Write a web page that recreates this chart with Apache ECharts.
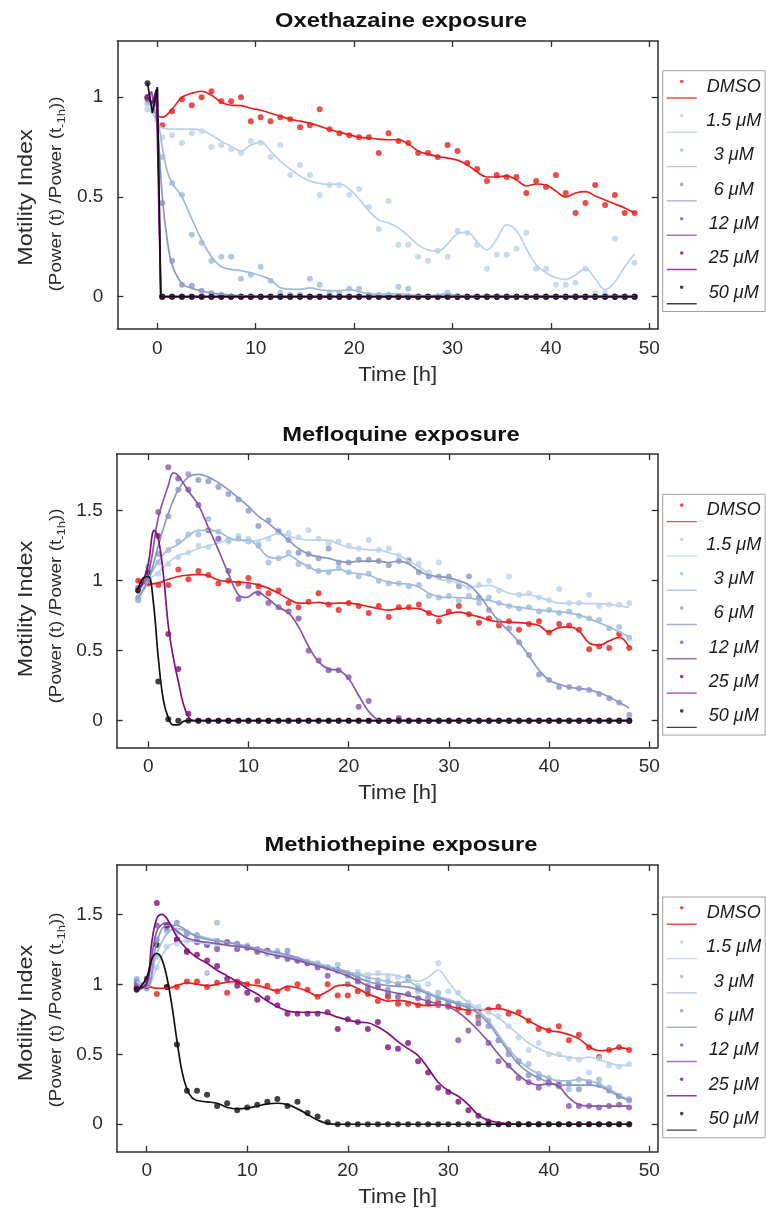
<!DOCTYPE html>
<html><head><meta charset="utf-8">
<script src="https://cdn.jsdelivr.net/npm/echarts@6/dist/echarts.min.js"></script>
<style>html,body{margin:0;padding:0;background:#fff}#c{width:766px;height:1211px}</style>
</head><body><div id="c"></div>
<script>
const FONT = '"Liberation Sans", Arial, Helvetica, sans-serif';
const seriesNames = ['DMSO', '1.5 μM', '3 μM', '6 μM', '12 μM', '25 μM', '50 μM'];
const colors = ['#e3211f', '#bcd2e8', '#9ebcda', '#8c96c6', '#8856a7', '#810f7c', '#111111'];
const panelTitles = ['Oxethazaine exposure', 'Mefloquine exposure', 'Methiothepine exposure'];
const xTicks = [0, 10, 20, 30, 40, 50];
const yTicksOxe = [0, 0.5, 1];
const yTicks = [0, 0.5, 1, 1.5];

// ---------- Oxethazaine ----------
const tOxe = [-1,0.5,1.5,2.5,3.5,4.5,5.5,6.5,7.5,8.5,9.5,10.5,11.5,12.5,13.5,14.5,15.5,16.5,17.5,18.5,19.5,20.5,21.5,22.5,23.5,24.5,25.5,26.5,27.5,28.5,29.5,30.5,31.5,32.5,33.5,34.5,35.5,36.5,37.5,38.5,39.5,40.5,41.5,42.5,43.5,44.5,45.5,46.5,47.5,48.5];
const oxeDMSO = [1.0,0.86,0.93,0.99,0.96,1.0,1.03,0.98,0.98,1.0,0.88,0.9,0.88,0.9,0.89,0.85,0.86,0.94,0.84,0.82,0.81,0.8,0.8,0.72,0.82,0.78,0.77,0.72,0.72,0.7,0.76,0.73,0.67,0.64,0.58,0.61,0.6,0.6,0.52,0.58,0.55,0.61,0.52,0.42,0.47,0.56,0.46,0.51,0.42,0.42];
const oxe1_5 = [0.94,0.8,0.81,0.77,0.82,0.83,0.75,0.76,0.74,0.72,0.78,0.77,0.7,0.76,0.61,0.66,0.61,0.51,0.56,0.56,0.51,0.54,0.45,0.34,0.48,0.26,0.26,0.2,0.18,0.23,0.2,0.33,0.32,0.26,0.14,0.21,0.21,0.24,0.32,0.14,0.14,0.06,0.06,0.07,0.14,0.02,0.02,0.29,null,0.17];
const oxe3 = [0.97,0.7,0.57,0.51,0.31,0.27,0.18,0.2,0.2,0.09,0.11,0.15,0.08,0.02,0.01,0.01,0.09,0.06,0.02,0.02,0.04,0.04,0.01,0.01,0.01,0.05,0.04,0,0,0,0.02,0,0,0,0,0,0,0,0,0,0,0,0,0,0,0,0,0,0,0];
const oxe6 = [1.0,0.47,0.18,0.06,0.055,0.03,0.017,0.01,0,0,0,0,0,0,0,0,0,0,0,0,0,0,0,0,0,0,0,0,0,0,0,0,0,0,0,0,0,0,0,0,0,0,0,0,0,0,0,0,0,0];
const oxe12 = [0.99,0,0,0,0,0,0,0,0,0,0,0,0,0,0,0,0,0,0,0,0,0,0,0,0,0,0,0,0,0,0,0,0,0,0,0,0,0,0,0,0,0,0,0,0,0,0,0,0,0];
const oxe25 = [1.0,0,0,0,0,0,0,0,0,0,0,0,0,0,0,0,0,0,0,0,0,0,0,0,0,0,0,0,0,0,0,0,0,0,0,0,0,0,0,0,0,0,0,0,0,0,0,0,0,0];
const oxe50 = [1.07,0,0,0,0,0,0,0,0,0,0,0,0,0,0,0,0,0,0,0,0,0,0,0,0,0,0,0,0,0,0,0,0,0,0,0,0,0,0,0,0,0,0,0,0,0,0,0,0,0];
const oxeFitDMSO = [[-1,1.0],[-0.5,0.96],[0,0.91],[0.5,0.9],[1.5,0.94],[2.5,1.0],[3.5,1.02],[4.5,1.03],[5.5,1.01],[6.5,0.975],[7.5,0.96],[8.5,0.958],[9.5,0.945],[10.5,0.935],[11.5,0.92],[12.5,0.905],[13.5,0.89],[14.5,0.88],[15.5,0.87],[16.5,0.855],[17.5,0.838],[18.5,0.825],[19.5,0.812],[20.5,0.8],[21.5,0.795],[22.5,0.79],[23.5,0.787],[24.5,0.787],[25.5,0.765],[26.5,0.73],[27.5,0.715],[28.5,0.703],[29.5,0.695],[30.5,0.685],[31.5,0.662],[32.5,0.625],[33.5,0.6],[34.5,0.6],[35.5,0.606],[36.5,0.585],[37.5,0.555],[38.5,0.565],[39.5,0.56],[40.5,0.53],[41.5,0.5],[42.5,0.52],[43.5,0.527],[44.5,0.505],[45.5,0.485],[46.5,0.465],[47.5,0.445],[48.5,0.42]];
const oxeFit1_5 = [[-1,0.94],[-0.5,0.92],[0,0.87],[0.5,0.846],[1.5,0.84],[2.5,0.84],[3.5,0.84],[4.5,0.835],[5.5,0.81],[6.5,0.78],[7.5,0.754],[8.5,0.73],[9.5,0.76],[10.5,0.775],[11.5,0.73],[12.5,0.68],[13.5,0.64],[14.5,0.605],[15.5,0.58],[16.5,0.568],[17.5,0.562],[18.5,0.566],[19.5,0.54],[20.5,0.49],[21.5,0.43],[22.5,0.385],[23.5,0.37],[24.5,0.345],[25.5,0.305],[26.5,0.26],[27.5,0.235],[28.5,0.228],[29.5,0.265],[30.5,0.315],[31.5,0.322],[32.5,0.275],[33.5,0.235],[34.5,0.29],[35.5,0.36],[36.5,0.33],[37.5,0.24],[38.5,0.16],[39.5,0.12],[40.5,0.095],[41.5,0.087],[42.5,0.11],[43.5,0.14],[44.5,0.09],[45.5,0.035],[46.5,0.075],[47.5,0.15],[48.5,0.215]];
const oxeFit3 = [[-1,0.97],[-0.5,0.96],[0,0.9],[0.5,0.75],[1,0.63],[1.5,0.57],[2.5,0.5],[3.5,0.39],[4.5,0.285],[5.5,0.2],[6.5,0.15],[7.5,0.137],[8.5,0.13],[9.5,0.12],[10.5,0.105],[11.5,0.085],[12.5,0.045],[13.5,0.038],[14.5,0.037],[15.5,0.044],[16.5,0.035],[17.5,0.03],[18.5,0.03],[19.5,0.037],[20.5,0.025],[21.5,0.015],[22.5,0.012],[23.5,0.013],[24.5,0.015],[25.5,0.01],[26.5,0.005],[27.5,0.003],[28.5,0.01],[29.5,0.015],[30.5,0.005],[31.5,0],[48.5,0]];
const oxeFit6 = [[-1,1.0],[-0.5,0.97],[0,0.85],[0.5,0.5],[1,0.285],[1.5,0.16],[2.5,0.065],[3.5,0.042],[4.5,0.028],[5.5,0.018],[7.5,0.008],[9.5,0.003],[11,0],[48.5,0]];
const oxeFit12 = [[-1,0.99],[-0.6,1.03],[-0.3,0.95],[0,1.05],[0.35,0],[48.5,0]];
const oxeFit25 = [[-1,1.0],[-0.5,0.97],[-0.1,1.04],[0.35,0],[48.5,0]];
const oxeFit50 = [[-1,1.07],[-0.5,0.92],[0,1.05],[0.35,0],[48.5,0]];

// ---------- Mefloquine ----------
const tMef = [-1,0,1,2,3,4,5,6,7,8,9,10,11,12,13,14,15,16,17,18,19,20,21,22,23,24,25,26,27,28,29,30,31,32,33,34,35,36,37,38,39,40,41,42,43,44,45,46,47,48];
const mefDMSO = [1.0,0.98,0.97,0.97,1.08,1.01,1.07,1.04,0.98,1.0,0.98,1.02,0.96,0.91,0.93,0.84,0.81,0.85,0.91,0.83,0.79,0.84,0.82,0.77,0.82,0.74,0.81,0.81,0.83,0.77,0.71,0.78,0.82,0.76,0.7,0.73,0.68,0.71,0.65,0.69,0.71,0.63,0.69,0.68,0.65,0.51,0.53,0.52,0.62,0.52];
const mef1_5 = [0.86,1.0,1.05,1.12,1.17,1.2,1.25,1.24,1.29,1.28,1.32,1.3,1.27,1.3,1.36,1.34,1.31,1.36,1.3,1.27,1.28,1.25,1.23,1.29,1.22,1.23,1.18,1.15,1.12,1.06,1.13,1.0,0.99,0.95,0.97,1.0,0.93,1.03,0.9,0.91,0.88,0.86,0.94,0.84,0.84,0.9,0.82,0.83,0.83,0.84];
const mef3 = [0.86,1.02,1.13,1.22,1.28,1.33,1.33,1.44,1.35,1.29,1.3,1.28,1.25,1.13,1.16,1.2,1.12,1.1,1.07,1.06,1.09,1.06,1.03,1.05,1.0,0.98,0.98,0.96,0.97,0.89,0.88,0.89,0.86,0.89,0.84,0.88,0.84,0.82,0.8,0.81,0.78,0.79,0.77,0.78,0.75,0.73,0.72,0.66,0.67,0.59];
const mef6 = [0.88,1.1,1.19,1.46,1.65,1.76,1.72,1.71,1.67,1.62,1.58,1.5,1.39,1.43,1.35,1.29,1.2,1.19,1.16,1.23,1.13,1.13,1.15,1.15,1.14,1.11,1.14,1.14,1.06,1.03,1.03,1.03,0.96,1.03,0.88,0.79,0.71,0.66,0.56,0.47,0.33,0.29,0.24,0.24,0.23,0.22,0.19,0.16,0.13,0.04];
const mef12 = [0.95,1.05,1.49,1.81,1.73,1.65,1.54,1.36,1.3,1.07,0.87,0.96,0.91,0.84,0.81,0.78,0.73,0.5,0.43,0.36,0.36,0.31,0.1,0.14,0,0,0.02,0,0,0,0,0,0,0,0,0,0,0,0,0,0,0,0,0,0,0,0,0,0,0];
const mef25 = [0.93,1.01,1.32,0.62,0.37,0.05,0,0,0,0,0,0,0,0,0,0,0,0,0,0,0,0,0,0,0,0,0,0,0,0,0,0,0,0,0,0,0,0,0,0,0,0,0,0,0,0,0,0,0,0];
const mef50 = [0.93,1.06,0.28,0.01,0,0,0,0,0,0,0,0,0,0,0,0,0,0,0,0,0,0,0,0,0,0,0,0,0,0,0,0,0,0,0,0,0,0,0,0,0,0,0,0,0,0,0,0,0,0];
const mefFitDMSO = [[-1,1.0],[0,0.975],[1,0.985],[2,1.01],[3,1.03],[4,1.04],[5,1.045],[6,1.035],[7,1.005],[8,0.995],[9,0.99],[10,0.985],[11,0.97],[12,0.945],[13,0.91],[14,0.87],[15,0.84],[16,0.84],[17,0.845],[18,0.835],[19,0.84],[20,0.84],[21,0.83],[22,0.815],[23,0.8],[24,0.79],[25,0.8],[26,0.805],[27,0.8],[28,0.77],[29,0.745],[30,0.765],[31,0.775],[32,0.76],[33,0.742],[34,0.72],[35,0.706],[36,0.705],[37,0.7],[38,0.694],[39,0.68],[40,0.635],[41,0.665],[42,0.67],[43,0.64],[44,0.555],[45,0.54],[46,0.57],[47,0.595],[48,0.524]];
const mefFit1_5 = [[-1,0.88],[0,1.0],[1,1.06],[2,1.13],[3,1.18],[4,1.2],[5,1.23],[6,1.25],[7,1.27],[8,1.29],[9,1.29],[10,1.28],[11,1.29],[12,1.31],[13,1.34],[14,1.32],[15,1.3],[16,1.29],[17,1.29],[18,1.29],[19,1.26],[20,1.24],[21,1.23],[22,1.22],[23,1.22],[24,1.2],[25,1.18],[26,1.14],[27,1.1],[28,1.05],[29,1.01],[30,1.0],[31,0.98],[32,0.955],[33,0.96],[34,0.967],[35,0.943],[36,0.91],[37,0.9],[38,0.9],[39,0.88],[40,0.86],[41,0.84],[42,0.84],[43,0.84],[44,0.836],[45,0.836],[46,0.83],[47,0.82],[48,0.81]];
const mefFit3 = [[-1,0.86],[0,1.01],[1,1.14],[2,1.22],[3,1.26],[4,1.32],[5,1.36],[6,1.36],[7,1.35],[8,1.31],[9,1.29],[10,1.29],[11,1.24],[12,1.17],[13,1.16],[14,1.18],[15,1.14],[16,1.1],[17,1.07],[18,1.07],[19,1.08],[20,1.06],[21,1.05],[22,1.04],[23,1.01],[24,0.99],[25,0.98],[26,0.975],[27,0.955],[28,0.91],[29,0.885],[30,0.88],[31,0.88],[32,0.875],[33,0.865],[34,0.86],[35,0.84],[36,0.82],[37,0.81],[38,0.8],[39,0.79],[40,0.784],[41,0.777],[42,0.77],[43,0.754],[44,0.73],[45,0.7],[46,0.67],[47,0.635],[48,0.6]];
const mefFit6 = [[-1,0.88],[0,1.0],[1,1.25],[2,1.48],[3,1.65],[4,1.74],[5,1.76],[6,1.74],[7,1.7],[8,1.65],[9,1.59],[10,1.53],[11,1.46],[12,1.41],[13,1.35],[14,1.29],[15,1.23],[16,1.19],[17,1.17],[18,1.16],[19,1.14],[20,1.13],[21,1.14],[22,1.14],[23,1.14],[24,1.13],[25,1.14],[26,1.12],[27,1.07],[28,1.04],[29,1.03],[30,1.02],[31,1.0],[32,0.97],[33,0.9],[34,0.8],[35,0.71],[36,0.64],[37,0.56],[38,0.46],[39,0.36],[40,0.29],[41,0.26],[42,0.24],[43,0.23],[44,0.22],[45,0.2],[46,0.17],[47,0.13],[48,0.09]];
const mefFit12 = [[-1,0.93],[0,1.05],[1,1.45],[2,1.68],[2.5,1.77],[3,1.75],[4,1.64],[5,1.54],[6,1.38],[7,1.22],[8,1.05],[9,0.9],[9.8,0.88],[10.8,0.92],[11.8,0.88],[13,0.81],[14,0.77],[15,0.67],[16,0.53],[17,0.42],[18,0.37],[19,0.36],[20,0.3],[21,0.18],[22,0.066],[23,0.007],[24,0],[48,0]];
const mefFit25 = [[-1,0.93],[-0.5,1.0],[0,1.12],[0.6,1.36],[1,1.3],[1.5,1.05],[2,0.68],[2.5,0.45],[3,0.28],[3.5,0.12],[4,0.03],[4.5,0],[48,0]];
const mefFit50 = [[-1,0.94],[-0.5,1.02],[0,1.03],[0.5,0.85],[1,0.45],[1.5,0.15],[2,0.02],[2.5,-0.03],[3,-0.03],[3.5,-0.005],[4,0],[48,0]];

// ---------- Methiothepine ----------
const tMet = [-1,0,1,2,3,4,5,6,7,8,9,10,11,12,13,14,15,16,17,18,19,20,21,22,23,24,25,26,27,28,29,30,31,32,33,34,35,36,37,38,39,40,41,42,43,44,45,46,47,48];
const metDMSO = [0.98,0.99,0.93,0.98,0.98,1.02,1.02,0.98,1.01,0.94,1.02,1.0,1.02,0.99,0.95,0.97,1.0,0.96,0.91,1.0,0.92,0.92,0.95,0.93,0.88,0.91,0.86,0.86,0.85,0.87,0.87,0.85,0.83,0.8,0.77,0.82,0.84,0.79,0.8,0.74,0.68,0.67,0.7,0.6,0.64,0.55,0.48,0.53,0.55,0.53];
const met1_5 = [1.03,0.99,1.12,1.27,1.29,1.31,1.32,1.29,1.27,1.29,1.26,1.28,1.24,1.22,1.23,1.21,1.17,1.15,1.13,1.12,1.09,1.08,1.09,1.07,1.08,1.06,1.05,1.03,0.99,1.0,1.15,0.95,0.94,0.87,0.84,0.8,0.77,0.7,0.62,0.53,0.58,0.5,0.5,0.47,0.46,0.37,0.47,0.42,0.41,0.43];
const met3 = [1.04,1.0,1.2,1.38,1.37,1.37,1.33,1.08,1.44,1.3,1.29,1.26,1.25,1.22,1.24,1.2,1.18,1.16,1.15,1.12,1.14,1.08,1.07,1.04,1.03,1.02,1.0,1.03,0.95,0.93,0.94,0.88,0.86,0.85,0.8,0.74,0.6,0.53,0.45,0.43,0.36,0.33,0.3,0.25,0.32,0.3,0.32,0.26,0.2,0.18];
const met6 = [1.02,0.97,1.32,1.4,1.44,1.36,1.35,1.28,1.31,1.3,1.29,1.27,1.25,1.24,1.22,1.24,1.17,1.15,1.14,1.12,1.1,1.06,1.04,0.99,1.0,0.96,1.0,1.05,0.97,0.9,0.9,0.86,0.86,0.84,0.75,0.7,0.6,0.5,0.45,0.35,0.33,0.29,0.27,0.29,0.25,0.3,0.28,0.24,0.2,0.17];
const met12 = [1.0,1.0,1.42,1.42,1.32,1.24,1.3,1.28,1.25,1.3,1.25,1.26,1.23,1.24,1.2,1.18,1.17,1.15,1.12,1.06,1.1,1.0,1.02,0.96,0.98,0.93,0.91,0.93,0.9,0.87,0.85,0.84,0.6,0.67,0.72,0.58,0.45,0.42,0.33,0.3,0.26,0.3,0.28,0.13,0.13,0.13,0.12,0.13,0.14,0.12];
const met25 = [0.97,1.04,1.58,1.42,1.32,1.23,1.21,1.17,1.13,1.04,0.99,0.94,0.89,0.9,0.85,0.79,0.79,0.79,0.79,0.8,0.68,0.75,0.73,0.68,0.73,0.55,0.54,0.58,0.45,0.37,0.26,0.23,0.16,0.1,0.06,0.02,0,0,0,0,0,0,0,0,0,0,0,0,0,0];
const met50 = [0.96,0.99,1.28,0.98,0.57,0.24,0.24,0.21,0.13,0.15,0.1,0.12,0.14,0.16,0.18,0.13,0.16,0.08,0.055,0.014,0,0,0,0,0,0,0,0,0,0,0,0,0,0,0,0,0,0,0,0,0,0,0,0,0,0,0,0,0,0];
const metFitDMSO = [[-1,0.96],[0,0.985],[1,0.97],[2,0.97],[3,0.99],[4,1.01],[5,1.0],[6,0.99],[7,1.0],[8,1.015],[9,1.02],[10,1.0],[11,0.99],[12,0.97],[13,0.955],[14,0.985],[15,0.975],[16,0.95],[17,0.917],[18,0.95],[19,0.99],[20,0.995],[21,0.97],[22,0.93],[23,0.905],[24,0.88],[25,0.885],[26,0.875],[27,0.855],[28,0.848],[29,0.855],[30,0.845],[31,0.828],[32,0.815],[33,0.815],[34,0.822],[35,0.827],[36,0.81],[37,0.78],[38,0.74],[39,0.7],[40,0.67],[41,0.66],[42,0.64],[43,0.61],[44,0.555],[45,0.525],[46,0.53],[47,0.545],[48,0.537]];
const metFit1_5 = [[-1,1.02],[0,0.98],[1,1.12],[2,1.26],[3,1.3],[4,1.31],[5,1.3],[6,1.29],[8,1.28],[10,1.26],[12,1.23],[14,1.2],[16,1.16],[18,1.12],[20,1.08],[22,1.07],[24,1.07],[25,1.06],[26,1.04],[27,1.02],[28,1.05],[29,1.1],[30,1.02],[31,0.93],[32,0.87],[33,0.83],[34,0.8],[35,0.76],[36,0.7],[37,0.64],[38,0.58],[39,0.54],[40,0.51],[41,0.49],[42,0.48],[43,0.47],[44,0.48],[45,0.46],[46,0.44],[47,0.42],[48,0.42]];
const metFit3 = [[-1,1.02],[0,1.0],[1,1.22],[2,1.36],[3,1.4],[4,1.37],[5,1.35],[6,1.33],[8,1.3],[10,1.27],[12,1.24],[14,1.21],[16,1.17],[18,1.13],[20,1.09],[22,1.05],[24,1.02],[25,1.01],[26,1.02],[27,0.98],[28,0.94],[30,0.89],[31,0.87],[32,0.85],[33,0.81],[34,0.74],[35,0.64],[36,0.54],[37,0.46],[38,0.4],[39,0.36],[40,0.33],[41,0.31],[42,0.31],[43,0.32],[44,0.31],[45,0.29],[46,0.25],[47,0.21],[48,0.17]];
const metFit6 = [[-1,1.0],[0,0.98],[1,1.3],[2,1.42],[3,1.42],[4,1.38],[5,1.34],[6,1.32],[8,1.3],[10,1.27],[12,1.24],[14,1.21],[16,1.16],[18,1.12],[20,1.08],[22,1.02],[24,0.99],[26,0.98],[27,0.96],[28,0.93],[30,0.88],[31,0.86],[32,0.83],[33,0.79],[34,0.72],[35,0.62],[36,0.52],[37,0.43],[38,0.37],[39,0.33],[40,0.3],[41,0.28],[42,0.28],[43,0.28],[44,0.28],[45,0.27],[46,0.24],[47,0.2],[48,0.17]];
const metFit12 = [[-1,0.96],[0,1.0],[1,1.38],[2,1.44],[3,1.38],[4,1.33],[5,1.31],[6,1.3],[8,1.28],[10,1.26],[12,1.22],[14,1.19],[16,1.15],[18,1.11],[20,1.06],[22,0.99],[24,0.95],[26,0.92],[28,0.88],[29,0.86],[30,0.84],[31,0.8],[32,0.74],[33,0.67],[34,0.59],[35,0.5],[36,0.42],[37,0.35],[38,0.3],[39,0.28],[40,0.29],[41,0.27],[42,0.19],[43,0.14],[44,0.13],[45,0.13],[46,0.13],[47,0.13],[48,0.13]];
const metFit25 = [[-1,0.96],[0,1.01],[0.5,1.3],[1,1.47],[1.5,1.5],[2,1.47],[3,1.34],[4,1.25],[5,1.19],[6,1.15],[7,1.1],[8,1.06],[9,1.02],[10,0.97],[11,0.93],[12,0.88],[13,0.84],[14,0.81],[15,0.8],[16,0.8],[17,0.8],[18,0.79],[19,0.765],[20,0.745],[21,0.73],[22,0.725],[23,0.695],[24,0.65],[25,0.59],[26,0.54],[27,0.49],[28,0.4],[29,0.3],[30,0.24],[31,0.2],[32,0.14],[33,0.065],[34,0.028],[35,0.012],[36,0.004],[37,0],[48,0]];
const metFit50 = [[-1,0.95],[0,1.05],[0.5,1.18],[1,1.22],[1.5,1.18],[2,1.05],[2.5,0.85],[3,0.6],[3.5,0.38],[4,0.25],[4.5,0.19],[5,0.17],[6,0.16],[7,0.15],[8,0.12],[9,0.11],[10,0.115],[11,0.13],[12,0.145],[13,0.15],[14,0.14],[15,0.11],[16,0.07],[17,0.03],[18,0.005],[19,0],[48,0]];

// ---------- assembly ----------
const panels = [
  { title: panelTitles[0], t: tOxe, yTicks: yTicksOxe,
    dots: [oxeDMSO, oxe1_5, oxe3, oxe6, oxe12, oxe25, oxe50],
    fits: [oxeFitDMSO, oxeFit1_5, oxeFit3, oxeFit6, oxeFit12, oxeFit25, oxeFit50],
    smooth: [0.4, 0.4, 0.4, 0.4, false, false, false] },
  { title: panelTitles[1], t: tMef, yTicks: yTicks,
    dots: [mefDMSO, mef1_5, mef3, mef6, mef12, mef25, mef50],
    fits: [mefFitDMSO, mefFit1_5, mefFit3, mefFit6, mefFit12, mefFit25, mefFit50],
    smooth: [0.4, 0.4, 0.4, 0.4, 0.4, 0.4, 0.4] },
  { title: panelTitles[2], t: tMet, yTicks: yTicks,
    dots: [metDMSO, met1_5, met3, met6, met12, met25, met50],
    fits: [metFitDMSO, metFit1_5, metFit3, metFit6, metFit12, metFit25, metFit50],
    smooth: [0.4, 0.4, 0.4, 0.4, 0.4, 0.4, 0.4] }
];
const layout = [
  { grid: { left: 117.3, top: 41, width: 540.4, height: 288 }, xr: [-4.07, 50.85], yr: [-0.162, 1.282],
    legendTop: 70.7, titleY: 21, timeY: 375, yNameY: 197.5, ySubY: 194 },
  { grid: { left: 116.7, top: 454, width: 541, height: 293.3 }, xr: [-3.15, 50.84], yr: [-0.19, 1.905],
    legendTop: 494.3, titleY: 435, timeY: 793, yNameY: 609, ySubY: 606 },
  { grid: { left: 116.7, top: 865, width: 541, height: 286.7 }, xr: [-2.99, 50.84], yr: [-0.196, 1.852],
    legendTop: 897, titleY: 845, timeY: 1197, yNameY: 1013, ySubY: 1010 }
];

function pts(t, v) { const o = []; for (let k = 0; k < t.length; k++) if (v[k] !== null) o.push([t[k], v[k]]); return o; }
const AX = '#2e2e2e';
function xAx(p, top) {
  const L = layout[p];
  return { type: 'value', gridIndex: p, position: top ? 'top' : 'bottom', min: L.xr[0], max: L.xr[1],
    axisLine: { show: true, onZero: false, lineStyle: { color: AX, width: 1.5 } },
    axisTick: { show: true, inside: true, length: 6, customValues: xTicks, lineStyle: { color: AX, width: 1.3 } },
    axisLabel: { show: !top, customValues: xTicks, fontSize: 19, color: '#2a2a2a', fontFamily: FONT, margin: 10 },
    splitLine: { show: false } };
}
function yAx(p, right) {
  const L = layout[p];
  return { type: 'value', gridIndex: p, position: right ? 'right' : 'left', min: L.yr[0], max: L.yr[1],
    axisLine: { show: true, onZero: false, lineStyle: { color: AX, width: 1.5 } },
    axisTick: { show: true, inside: true, length: 6, customValues: panels[p].yTicks, lineStyle: { color: AX, width: 1.3 } },
    axisLabel: { show: !right, customValues: panels[p].yTicks, fontSize: 19, color: '#2a2a2a', fontFamily: FONT, margin: 14,
      formatter: v => String(v) },
    splitLine: { show: false } };
}

const grids = [], xAxes = [], yAxes = [], series = [], legends = [], graphics = [];
panels.forEach((P, p) => {
  const L = layout[p];
  grids.push(Object.assign({ containLabel: false, outerBoundsMode: 'none' }, L.grid));
  xAxes.push(xAx(p, false), xAx(p, true));
  yAxes.push(yAx(p, false), yAx(p, true));
  seriesNames.forEach((nm, j) => {
    series.push({ name: nm, type: 'scatter', xAxisIndex: 2 * p, yAxisIndex: 2 * p, data: pts(P.t, P.dots[j]),
      symbolSize: 6, itemStyle: { color: colors[j] }, animation: false, silent: true });
    series.push({ name: nm, type: 'line', xAxisIndex: 2 * p, yAxisIndex: 2 * p, data: P.fits[j],
      smooth: P.smooth[j], showSymbol: false, symbol: 'none', lineStyle: { color: colors[j], width: 1.7 },
      itemStyle: { color: colors[j] }, animation: false, silent: true });
  });
  legends.push({ orient: 'vertical', left: 662.7, top: L.legendTop, data: seriesNames,
    icon: 'path://M13.2,1.8A1.8,1.8,0,1,0,16.8,1.8A1.8,1.8,0,1,0,13.2,1.8ZM0,17.6L30,17.6L30,19L0,19Z',
    itemWidth: 30, itemHeight: 19, itemGap: 13.3, padding: [7, 4, 7, 4],
    borderColor: '#a0a0a0', borderWidth: 1, backgroundColor: '#fff', selectedMode: false,
    formatter: n => '{a|' + n + '}',
    textStyle: { rich: { a: { width: 64, align: 'center', fontSize: 18, fontStyle: 'italic', fontFamily: FONT, color: '#1a1a1a', padding: [0, 0, 5, 0] } } } });
  graphics.push({ type: 'text', x: 401, y: L.titleY, scaleX: 1.13,
    style: { text: P.title, font: 'bold 21px ' + FONT, fill: '#111', align: 'center', textAlign: 'center', verticalAlign: 'middle', textVerticalAlign: 'middle' } });
  graphics.push({ type: 'text', x: 397.7, y: L.timeY, scaleX: 1.05,
    style: { text: 'Time [h]', font: '21px ' + FONT, fill: '#2a2a2a', align: 'center', textAlign: 'center', verticalAlign: 'middle', textVerticalAlign: 'middle' } });
  graphics.push({ type: 'text', x: 26.7, y: L.yNameY, rotation: Math.PI / 2, scaleX: 1.17,
    style: { text: 'Motility Index', font: '20px ' + FONT, fill: '#2a2a2a', align: 'center', textAlign: 'center', verticalAlign: 'middle', textVerticalAlign: 'middle' } });
  graphics.push({ type: 'text', x: 56.7, y: L.ySubY, rotation: Math.PI / 2, scaleX: 1.18,
    style: { text: '{a|(Power (t) /Power (t}{b|-1h}{a|))}', fill: '#2a2a2a', align: 'center', textAlign: 'center', verticalAlign: 'middle', textVerticalAlign: 'middle',
      rich: { a: { fontSize: 16, fontFamily: FONT, lineHeight: 22, fill: '#2a2a2a' },
              b: { fontSize: 11, fontFamily: FONT, lineHeight: 11, verticalAlign: 'bottom', fill: '#2a2a2a' } } } });
});

const chart = echarts.init(document.getElementById('c'), null, { renderer: 'canvas' });
chart.setOption({
  animation: false, backgroundColor: '#ffffff',
  grid: grids, xAxis: xAxes, yAxis: yAxes, series: series, legend: legends, graphic: { elements: graphics }
});
</script></body></html>
